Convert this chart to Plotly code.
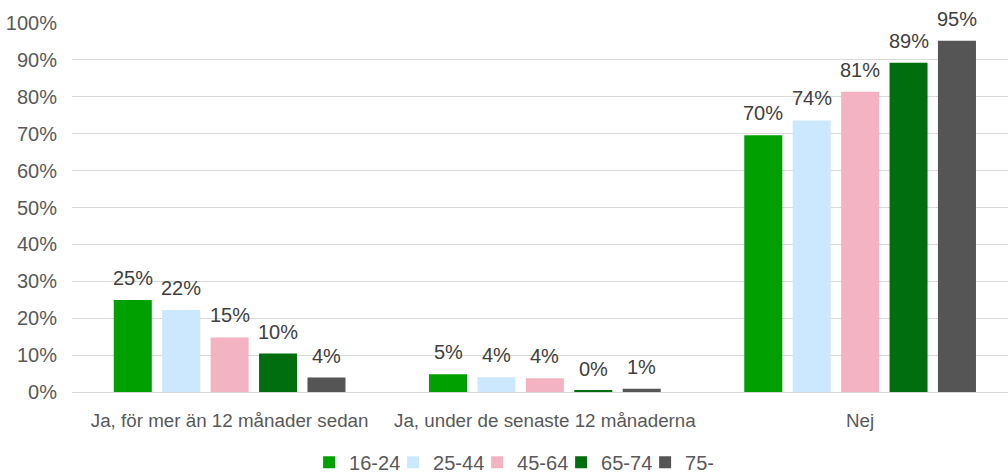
import plotly.graph_objects as go

categories = ["Ja, för mer än 12 månader sedan", "Ja, under de senaste 12 månaderna", "Nej"]
series_names = ["16-24", "25-44", "45-64", "65-74", "75-"]
v_16_24 = [0.249, 0.048, 0.696]
v_25_44 = [0.222, 0.040, 0.736]
v_45_64 = [0.148, 0.037, 0.814]
v_65_74 = [0.104, 0.0035, 0.892]
v_75 = [0.039, 0.009, 0.952]
series_values = [v_16_24, v_25_44, v_45_64, v_65_74, v_75]
colors = ["#00A000", "#CCE8FF", "#F4B3C2", "#006E0E", "#555555"]

FONT = "Liberation Sans, Arial, sans-serif"
FS = 20
W, H = 1008, 474
ML, MR, MT, MB = 72, 0, 23, 82
BARGAP = 0.232
BARGROUPGAP = 0.215
CAT_PX = 315.25  # pixel width of one category band (plot area is cut at the right edge)

plot_w = W - ML - MR
x_range = [-0.5, -0.5 + plot_w / CAT_PX]

fig = go.Figure()
for name, vals, col in zip(series_names, series_values, colors):
    fig.add_trace(go.Bar(
        x=categories, y=vals, name=name,
        marker=dict(color=col, line=dict(width=0)),
        cliponaxis=False,
    ))

# data labels placed above each bar, offset horizontally like the grouped bars
slot = CAT_PX * (1 - BARGAP) / len(series_names)
mid = (len(series_names) - 1) / 2
for i, vals in enumerate(series_values):
    for cat, v in zip(categories, vals):
        fig.add_annotation(
            x=cat, y=v, xref="x", yref="y",
            text=f"{round(v * 100):.0f}%", showarrow=False,
            xanchor="center", yanchor="bottom",
            xshift=(i - mid) * slot, yshift=9,
            font=dict(family=FONT, size=FS, color="#404040"),
        )

fig.update_layout(
    width=W, height=H,
    margin=dict(l=ML, r=MR, t=MT, b=MB, autoexpand=False),
    barmode="group", bargap=BARGAP, bargroupgap=BARGROUPGAP,
    plot_bgcolor="white", paper_bgcolor="white",
    font=dict(family=FONT, size=FS, color="#595959"),
    showlegend=True,
    legend=dict(orientation="h", xref="container", x=0.515, xanchor="center",
                yref="container", y=0.025, yanchor="middle",
                font=dict(family=FONT, size=FS, color="#595959"),
                itemwidth=30, entrywidth=39, entrywidthmode="pixels",
                traceorder="normal"),
)
fig.update_xaxes(range=x_range, tickangle=0, showline=False, ticks="", automargin=False,
                 ticklabelstandoff=15, tickfont=dict(size=18.8, color="#595959"))
fig.update_yaxes(range=[0, 1.0], dtick=0.1, tickformat=".0%", showgrid=True,
                 gridcolor="#D9D9D9", gridwidth=1.3, zeroline=True, zerolinecolor="#D9D9D9",
                 zerolinewidth=1.3, ticks="", ticklabelstandoff=14, automargin=False,
                 tickfont=dict(size=FS, color="#595959"))

fig.write_html("out.html", config={"displayModeBar": False},
               post_script="document.body.style.margin='0';")
